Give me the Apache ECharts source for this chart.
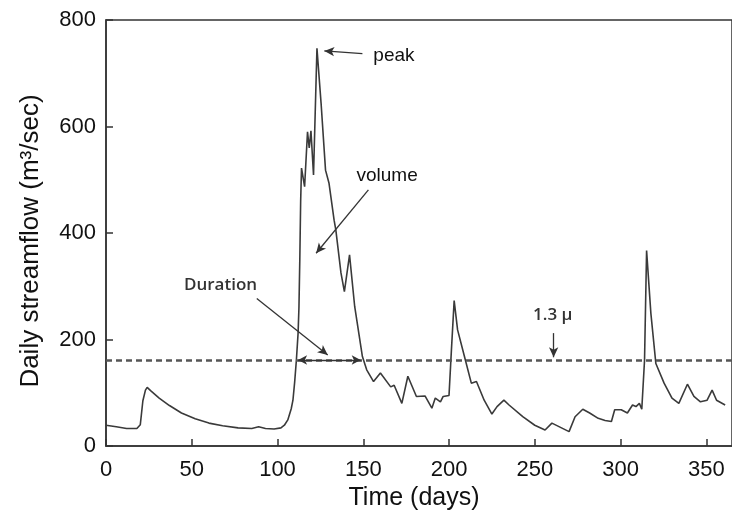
<!DOCTYPE html>
<html>
<head>
<meta charset="utf-8">
<script src="https://cdn.jsdelivr.net/npm/echarts@6/dist/echarts.min.js"></script>
<style>
  html, body { margin: 0; padding: 0; background: #fff; }
  #chart { width: 732px; height: 516px; }
</style>
</head>
<body>
<div id="chart"></div>
<script>
// daily streamflow
const days = [0, 6, 12, 18, 20, 21.5, 23, 24, 26, 31, 37, 44, 52, 60, 68, 77, 85, 89, 93, 98, 102, 104, 106, 108, 109, 110, 111, 112, 112.5, 113, 113.5, 114, 115.8, 117.5, 118.5, 119.5, 121, 123, 125.4, 128, 130, 133, 134, 137, 139, 142, 145, 149.5, 152, 156, 160, 166, 168, 172.5, 176, 181, 186, 190, 192, 195, 196.6, 200, 201.4, 203, 205, 209, 213, 216, 220.5, 225, 228, 232, 235, 243, 250, 256, 260, 265, 270, 273.5, 278, 282, 287, 291, 294.7, 296.6, 300.4, 304, 307, 309, 311, 312.4, 314, 315.2, 317.7, 320.6, 325.4, 330, 334, 339, 342.8, 346.6, 350.5, 353.4, 356, 361];
const flow = [39, 36, 33, 33, 40, 85, 105, 110, 104, 90, 76, 62, 51, 43, 38, 34, 33, 36, 33, 32, 34, 39, 49, 70, 86, 120, 161, 212, 260, 350, 460, 522, 487, 590, 560, 592, 509, 747, 644, 518, 494, 424, 406, 325, 290, 359, 262, 168, 143, 121, 137, 111, 114, 80, 131, 93, 94, 71, 90, 83, 93, 95, 180, 273, 218, 168, 118, 121, 86, 60, 74, 86, 77, 55, 39, 30, 43, 35, 27, 55, 69, 62, 52, 48, 46, 68, 68, 62, 77, 74, 80, 69, 161, 367, 249, 155, 118, 90, 80, 116, 93, 83, 86, 105, 86, 77];

// threshold 1.3 x mean flow
const threshold = 161.5;
const durationSpan = [112, 148.5];

// annotations (data coordinates)
const noteTexts = ['peak', 'volume', 'Duration', '1.3 μ'];
const noteAt = [[167.9, 732], [163.9, 507], [66.8, 302], [260.5, 246]];
const arrowFrom = [[149.5, 737], [153, 481], [87.9, 277], [261, 212]];
const arrowTo = [[127.3, 742], [122.5, 362], [129.3, 171], [261, 166.6]];

const xMax = 365;
const yMax = 800;

var chart = echarts.init(document.getElementById('chart'));

var seriesData = days.map(function (d, i) { return [d, flow[i]]; });

var arrowLines = arrowFrom.map(function (p, i) {
  return [
    { coord: p, symbol: 'none' },
    { coord: arrowTo[i], symbol: 'arrow', symbolSize: [7, 10] }
  ];
});

var durationLine = [
  { coord: [durationSpan[0], threshold], symbol: 'arrow', symbolSize: [7, 9] },
  { coord: [durationSpan[1], threshold], symbol: 'arrow', symbolSize: [7, 9] }
];

var notes = noteTexts.map(function (t, i) {
  var calibri = i >= 2;
  return {
    coord: noteAt[i],
    symbol: 'circle',
    symbolSize: 0,
    label: {
      show: true,
      formatter: t,
      position: 'inside',
      color: calibri ? '#333' : '#111',
      fontSize: calibri ? 17 : 19,
      fontWeight: calibri ? 600 : 'normal',
      fontFamily: calibri ? 'Open Sans' : 'Liberation Sans'
    }
  };
});

var option = {
  animation: false,
  backgroundColor: '#fff',
  grid: {
    left: 106,
    top: 20,
    bottom: 70,
    right: -7,
    show: true,
    borderColor: '#333',
    borderWidth: 1.5
  },
  xAxis: {
    type: 'value',
    min: 0,
    max: xMax,
    interval: 50,
    name: 'Time (days)',
    nameLocation: 'middle',
    nameGap: 32,
    nameTextStyle: { fontSize: 25, color: '#111', fontFamily: 'Liberation Sans', padding: [0, 10, 0, 0] },
    axisLine: { lineStyle: { color: '#333', width: 1.5 } },
    axisTick: { inside: true, length: 7, lineStyle: { color: '#333', width: 1.5 } },
    axisLabel: { fontSize: 22, color: '#111', fontFamily: 'Liberation Sans', margin: 13, showMaxLabel: false },
    splitLine: { show: false }
  },
  yAxis: {
    type: 'value',
    min: 0,
    max: yMax,
    interval: 200,
    name: 'Daily streamflow (m³/sec)',
    nameLocation: 'middle',
    nameGap: 62,
    nameTextStyle: { fontSize: 26, color: '#111', fontFamily: 'Liberation Sans', padding: [0, 16, 0, 0] },
    axisLine: { lineStyle: { color: '#333', width: 1.5 } },
    axisTick: { inside: true, length: 7, lineStyle: { color: '#333', width: 1.5 } },
    axisLabel: { fontSize: 22, color: '#111', fontFamily: 'Liberation Sans', margin: 10 },
    splitLine: { show: false }
  },
  series: [
    {
      type: 'line',
      data: seriesData,
      symbol: 'none',
      lineStyle: { color: '#3a3a3a', width: 1.6 },
      markLine: {
        silent: true,
        symbol: 'none',
        label: { show: false },
        data: [
          { yAxis: threshold, lineStyle: { type: [6, 4], color: '#555', width: 2.5 } }
        ]
      },
      markPoint: {
        silent: true,
        data: notes
      }
    },
    {
      // arrows of the annotations
      type: 'line',
      data: [],
      markLine: {
        silent: true,
        label: { show: false },
        lineStyle: { type: 'solid', color: '#333', width: 1.3 },
        data: arrowLines.concat([durationLine])
      }
    }
  ]
};

chart.setOption(option);
</script>
</body>
</html>
